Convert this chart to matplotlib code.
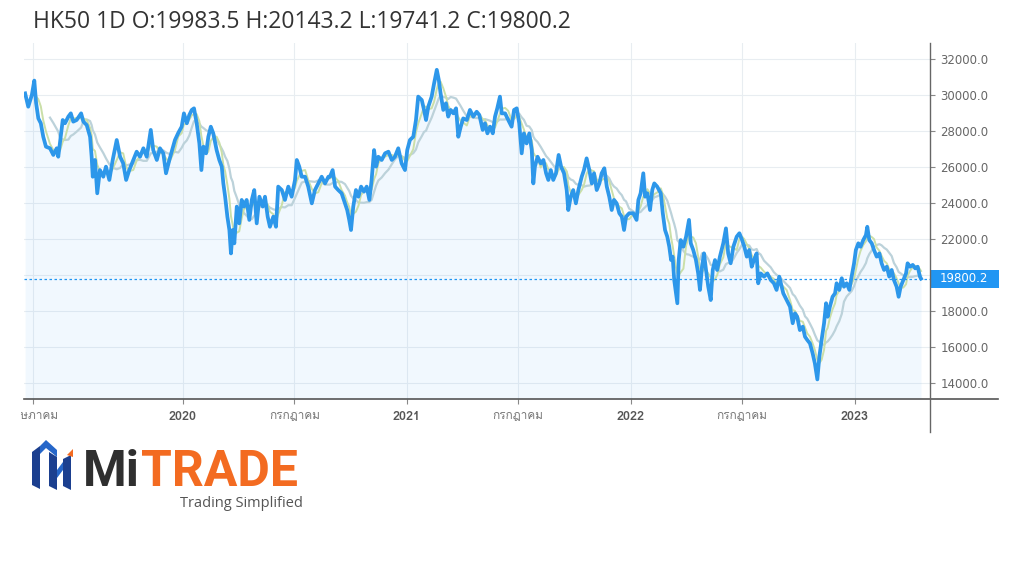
import numpy as np
import pandas as pd
import matplotlib
matplotlib.use("Agg")
from matplotlib import pyplot as plt
from matplotlib import font_manager, transforms
from matplotlib.ft2font import FT2Font
from matplotlib.lines import Line2D
from matplotlib.patches import Rectangle, Polygon

# HK50 daily close (x in fractional years)
t1 = [2019.295, 2019.309, 2019.325, 2019.336, 2019.344, 2019.354, 2019.365, 2019.376, 2019.388, 2019.406,
      2019.421, 2019.436, 2019.443, 2019.451, 2019.463, 2019.473, 2019.488, 2019.499, 2019.510, 2019.525,
      2019.545, 2019.555, 2019.570, 2019.585, 2019.592, 2019.597, 2019.607, 2019.617, 2019.629, 2019.644,
      2019.656, 2019.671, 2019.686, 2019.704, 2019.719, 2019.733, 2019.746, 2019.760, 2019.778, 2019.793,
      2019.808, 2019.823, 2019.838, 2019.856, 2019.867, 2019.883, 2019.897, 2019.912, 2019.924, 2019.939]
p1 = [30090, 29350, 30000, 30800, 29560, 28700, 28430, 27680, 27130, 27040,
      26670, 27040, 26570, 27400, 28610, 28430, 28800, 28980, 28520, 28610,
      28980, 28520, 28330, 27680, 26570, 25460, 26390, 24540, 25830, 25460,
      26020, 25280, 26390, 27500, 26570, 26200, 25280, 25830, 26390, 26850,
      26570, 27040, 26570, 28060, 26940, 26390, 27040, 26760, 25650, 26390]

t2 = [2019.964, 2019.979, 2019.994, 2020.004, 2020.017, 2020.028, 2020.039, 2020.049, 2020.061, 2020.073,
      2020.082, 2020.091, 2020.103, 2020.113, 2020.124, 2020.135, 2020.150, 2020.162, 2020.173, 2020.180,
      2020.188, 2020.198, 2020.207, 2020.214, 2020.222, 2020.229, 2020.240, 2020.251, 2020.262, 2020.272,
      2020.284, 2020.296, 2020.307, 2020.318, 2020.329, 2020.341, 2020.356, 2020.366, 2020.378, 2020.388,
      2020.403, 2020.415, 2020.425, 2020.441, 2020.455, 2020.470, 2020.485, 2020.500, 2020.508, 2020.519,
      2020.530, 2020.545, 2020.559, 2020.575, 2020.589, 2020.604, 2020.619, 2020.634, 2020.649]
p2 = [27500, 27900, 28240, 28980, 28430, 28890, 29170, 29260, 28430, 27310,
      25830, 27130, 26760, 27680, 28240, 27870, 26940, 26390, 26020, 25090,
      24350, 23240, 22500, 21200, 22500, 21760, 23800, 22870, 24170, 23800,
      24170, 23060, 24170, 24720, 22870, 24350, 23800, 24350, 23240, 22680,
      23240, 22680, 24910, 24720, 24170, 24910, 24350, 25280, 26390, 26020,
      25460, 25460, 24910, 23980, 24720, 25090, 25460, 25090, 25460]

t3 = [2020.656, 2020.668, 2020.679, 2020.693, 2020.708, 2020.723, 2020.733, 2020.742, 2020.750, 2020.760,
      2020.772, 2020.783, 2020.795, 2020.808, 2020.820, 2020.832, 2020.842, 2020.853, 2020.862, 2020.872,
      2020.887, 2020.902, 2020.917, 2020.932, 2020.946, 2020.961, 2020.976, 2020.991, 2021.001, 2021.013,
      2021.028, 2021.040, 2021.050, 2021.066, 2021.076, 2021.085, 2021.095, 2021.110, 2021.121, 2021.133,
      2021.142, 2021.150, 2021.162, 2021.174, 2021.184, 2021.195, 2021.207, 2021.219, 2021.229, 2021.240,
      2021.251, 2021.267, 2021.281, 2021.296, 2021.311, 2021.323]
p3 = [25460, 25830, 24910, 24720, 24540, 23980, 23610, 23060, 22500, 23800,
      24720, 24350, 24910, 24630, 24910, 24170, 25280, 26940, 26020, 26570,
      26390, 26760, 26850, 26390, 26570, 27040, 26200, 25830, 26940, 27500,
      27680, 28610, 29910, 29720, 29170, 28610, 29350, 29910, 30650, 31400,
      30830, 30090, 29170, 29540, 28800, 29170, 28980, 29260, 27680, 28240,
      28700, 28610, 29170, 28800, 29070, 28890]

t4 = [2021.338, 2021.348, 2021.359, 2021.371, 2021.383, 2021.393, 2021.403, 2021.415, 2021.423, 2021.438,
      2021.452, 2021.467, 2021.478, 2021.490, 2021.501, 2021.512, 2021.522, 2021.534, 2021.546, 2021.557,
      2021.564, 2021.571, 2021.583, 2021.597, 2021.609, 2021.621, 2021.631, 2021.642, 2021.653, 2021.665,
      2021.677, 2021.688, 2021.701, 2021.713, 2021.720, 2021.731, 2021.742, 2021.754, 2021.765, 2021.780,
      2021.790, 2021.802, 2021.814, 2021.825, 2021.835, 2021.847, 2021.859, 2021.869, 2021.881, 2021.892,
      2021.903, 2021.914, 2021.924, 2021.936, 2021.948, 2021.959, 2021.969, 2021.978, 2021.992]
p4 = [28060, 28430, 27870, 28240, 27870, 28800, 29260, 29910, 28980, 28980,
      28610, 28240, 29170, 29260, 28430, 26760, 27870, 27310, 27870, 26940,
      25090, 26020, 26570, 26200, 26390, 25650, 25280, 25830, 25280, 25650,
      26670, 26020, 25650, 24720, 23610, 24350, 24720, 23980, 24720, 25460,
      25830, 26480, 25830, 25090, 25650, 24720, 25090, 25650, 25930, 24910,
      24350, 23610, 24170, 23980, 23430, 23240, 22500, 23240, 23430]

t5 = [2022.010, 2022.025, 2022.033, 2022.043, 2022.055, 2022.063, 2022.073, 2022.085, 2022.095, 2022.104,
      2022.117, 2022.133, 2022.142, 2022.152, 2022.162, 2022.171, 2022.179, 2022.186, 2022.193, 2022.201,
      2022.207, 2022.213, 2022.222, 2022.234, 2022.246, 2022.259, 2022.267, 2022.278, 2022.290, 2022.300,
      2022.308, 2022.317, 2022.326, 2022.335, 2022.345, 2022.356, 2022.365, 2022.375, 2022.385, 2022.397,
      2022.412, 2022.424, 2022.434, 2022.445, 2022.457, 2022.472, 2022.484, 2022.496, 2022.506, 2022.517,
      2022.528, 2022.539, 2022.549, 2022.561, 2022.568, 2022.579, 2022.594, 2022.609, 2022.624, 2022.638,
      2022.650, 2022.662]
p5 = [23430, 23060, 24170, 24540, 25650, 24350, 24540, 23610, 24720, 25090,
      24910, 24540, 23430, 22500, 22130, 21570, 20830, 21020, 19720, 18980,
      18430, 20830, 21940, 21570, 22130, 23060, 21760, 21390, 20830, 20090,
      19170, 20460, 21200, 20280, 19350, 18610, 20280, 20830, 20280, 21020,
      21760, 22590, 21200, 20650, 21570, 22130, 22320, 21940, 21570, 21020,
      21390, 20460, 20830, 21200, 19540, 20090, 19910, 20090, 19720, 19540,
      19170, 19910]

t6 = [2022.680, 2022.695, 2022.710, 2022.722, 2022.732, 2022.742, 2022.754, 2022.767, 2022.777, 2022.787,
      2022.799, 2022.811, 2022.821, 2022.832, 2022.841, 2022.851, 2022.862, 2022.871, 2022.878, 2022.888,
      2022.900, 2022.911, 2022.918, 2022.930, 2022.941, 2022.951, 2022.963, 2022.975, 2022.985, 2022.996,
      2023.004, 2023.015, 2023.025, 2023.037, 2023.049, 2023.055, 2023.064, 2023.075, 2023.085, 2023.097,
      2023.109, 2023.119, 2023.130, 2023.142, 2023.153, 2023.164, 2023.174, 2023.186, 2023.195, 2023.204,
      2023.216, 2023.228, 2023.235, 2023.246, 2023.258, 2023.269, 2023.280, 2023.290, 2023.295]
p6 = [18980, 18610, 18240, 17320, 17870, 17680, 16940, 17130, 16570, 16390,
      16200, 15650, 15090, 14200, 15460, 16390, 17320, 18430, 17680, 18240,
      18790, 18980, 19540, 19170, 19820, 19350, 19540, 19170, 19910, 20650,
      21390, 21760, 21570, 21940, 22220, 22680, 21940, 21760, 21390, 21020,
      21200, 20650, 20280, 20460, 19910, 20280, 19720, 19350, 18790, 19350,
      19720, 20090, 20650, 20460, 20560, 20370, 20460, 19910, 19800.2]

last_close = 19800.2
title = "HK50 1D O:19983.5 H:20143.2 L:19741.2 C:19800.2"
y_ticks = list(range(14000, 32001, 2000))
x_ticks = [2019.329, 2020.0, 2020.497, 2021.0, 2021.496, 2022.0, 2022.496, 2023.0]
x_labels = ["พฤษภาคม", "2020", "กรกฎาคม", "2021", "กรกฎาคม", "2022", "กรกฎาคม", "2023"]

t = np.array(t1 + t2 + t3 + t4 + t5 + t6)
price = np.array(p1 + p2 + p3 + p4 + p5 + p6, dtype=float)

# moving averages on a calendar-day window
dates = pd.Timestamp("2020-01-01") + pd.to_timedelta((t - 2020) * 365.25, unit="D")
s = pd.Series(price, index=dates)
ma_fast = s.rolling("14D").mean()
ma_slow = s.rolling("40D").mean()
ma_fast[dates < dates[0] + pd.Timedelta(days=14)] = np.nan
ma_slow[dates < dates[0] + pd.Timedelta(days=40)] = np.nan

# find a font with Thai glyphs for the month labels
thai_family = None
for fe in font_manager.fontManager.ttflist:
    try:
        if 0x0E01 in FT2Font(fe.fname).get_charmap():
            thai_family = fe.name
            break
    except Exception:
        pass
label_fam = [thai_family, "DejaVu Sans"] if thai_family else ["DejaVu Sans"]

W, H = 1024, 576
fig = plt.figure(figsize=(W / 100, H / 100), dpi=100)
fig.patch.set_facecolor("white")

def fx(x):
    return x / W

def fy(y):
    return 1 - y / H

ax = fig.add_axes([fx(24), fy(399), (930 - 24) / W, (399 - 43) / H])
ax.set_facecolor("white")
ymin, ymax = 13111, 32889
ax.set_xlim(2019.290, 2023.335)
ax.set_ylim(ymin, ymax)

ax.fill_between(t, price, ymin, color="#2196f3", alpha=0.06, lw=0, zorder=1)
ax.plot(t, ma_slow.values, color="#bcd2da", lw=1.6, zorder=2)
ax.plot(t, ma_fast.values, color="#cadfa8", lw=1.4, zorder=3)
ax.plot(t, price, color="#2d97ea", lw=2.7, zorder=4)
ax.axhline(last_close, color="#2196f3", lw=0.9, ls=(0, (2, 2)), zorder=5)

for sp in ax.spines.values():
    sp.set_visible(False)

ax.set_axisbelow(True)
ax.grid(True, color="#e8edf1", lw=0.8)

ax.yaxis.tick_right()
ax.set_yticks(y_ticks)
ax.set_yticklabels(["" if v == 20000 else f"{v:.1f}" for v in y_ticks])
ax.tick_params(axis="y", length=3.6, width=0.8, color="#888", pad=4,
               labelsize=8.5, labelcolor="#666")

ax.set_xticks(x_ticks)
ax.set_xticklabels(x_labels)
ax.tick_params(axis="x", length=3.6, width=0.8, color="#888", pad=5)
for lab in ax.get_xticklabels():
    lab.set_family(label_fam)
    if lab.get_text().isdigit():
        lab.set_fontsize(9)
        lab.set_fontweight("bold")
        lab.set_color("#555")
    else:
        lab.set_fontsize(8.5)
        lab.set_color("#777")

# last price tag on the right axis
bt = transforms.blended_transform_factory(ax.transAxes, ax.transData)
ax.add_patch(Rectangle((1.0, last_close - 500), 69 / 906, 1000, transform=bt,
                       facecolor="#2196f3", edgecolor="none", clip_on=False, zorder=6))
ax.text(1.0 + 10 / 906, last_close, f"{last_close:.1f}", transform=bt, color="white",
        fontsize=8.5, va="center", ha="left", clip_on=False, zorder=7)

# axis lines: bottom runs past the right axis, right axis runs below the bottom
fig.add_artist(Line2D([fx(24), fx(998)], [fy(399), fy(399)], color="#555", lw=1.2))
fig.add_artist(Line2D([fx(930), fx(930)], [fy(43), fy(432)], color="#666", lw=1.0))
# the first month label is cut at the left edge in the original
fig.add_artist(Rectangle((0, fy(430)), fx(21), fy(403) - fy(430), transform=fig.transFigure,
                         facecolor="white", edgecolor="none", zorder=10))

fig.text(fx(33), fy(22), title, fontsize=16.5, family="Open Sans", color="#333",
         ha="left", va="center")

# MiTRADE logo
def poly(pts, color):
    fig.add_artist(Polygon([(fx(x), fy(y)) for x, y in pts], closed=True,
                           transform=fig.transFigure, facecolor=color, edgecolor="none"))

poly([(32, 452), (40, 446), (40, 489), (32, 485)], "#1b3f8f")
poly([(40, 446), (46, 440), (57, 450), (57, 457), (46, 448), (40, 454)], "#2566c9")
poly([(49, 452), (57, 457), (57, 490), (49, 486)], "#1b3f8f")
poly([(57, 470), (63, 462), (63, 470), (57, 478)], "#2566c9")
poly([(63, 459), (71, 455), (71, 490), (63, 486)], "#1b3f8f")
poly([(67, 455), (73, 449), (73, 457)], "#f26a21")

mi = fig.text(fx(83), fy(486), "Mi", fontsize=36, family="Roboto", weight="bold",
              color="#2f2f2f", ha="left", va="baseline")
r = fig.canvas.get_renderer()
bb = mi.get_window_extent(renderer=r)
fig.text(bb.x1 / W + 1 / W, fy(486), "TRADE", fontsize=36, family="Roboto", weight="bold",
         color="#f36b21", ha="left", va="baseline")
fig.text(fx(303), fy(507), "Trading Simplified", fontsize=10.5, family="Open Sans",
         color="#555", ha="right", va="baseline")

fig.savefig("out.png", dpi=100)
